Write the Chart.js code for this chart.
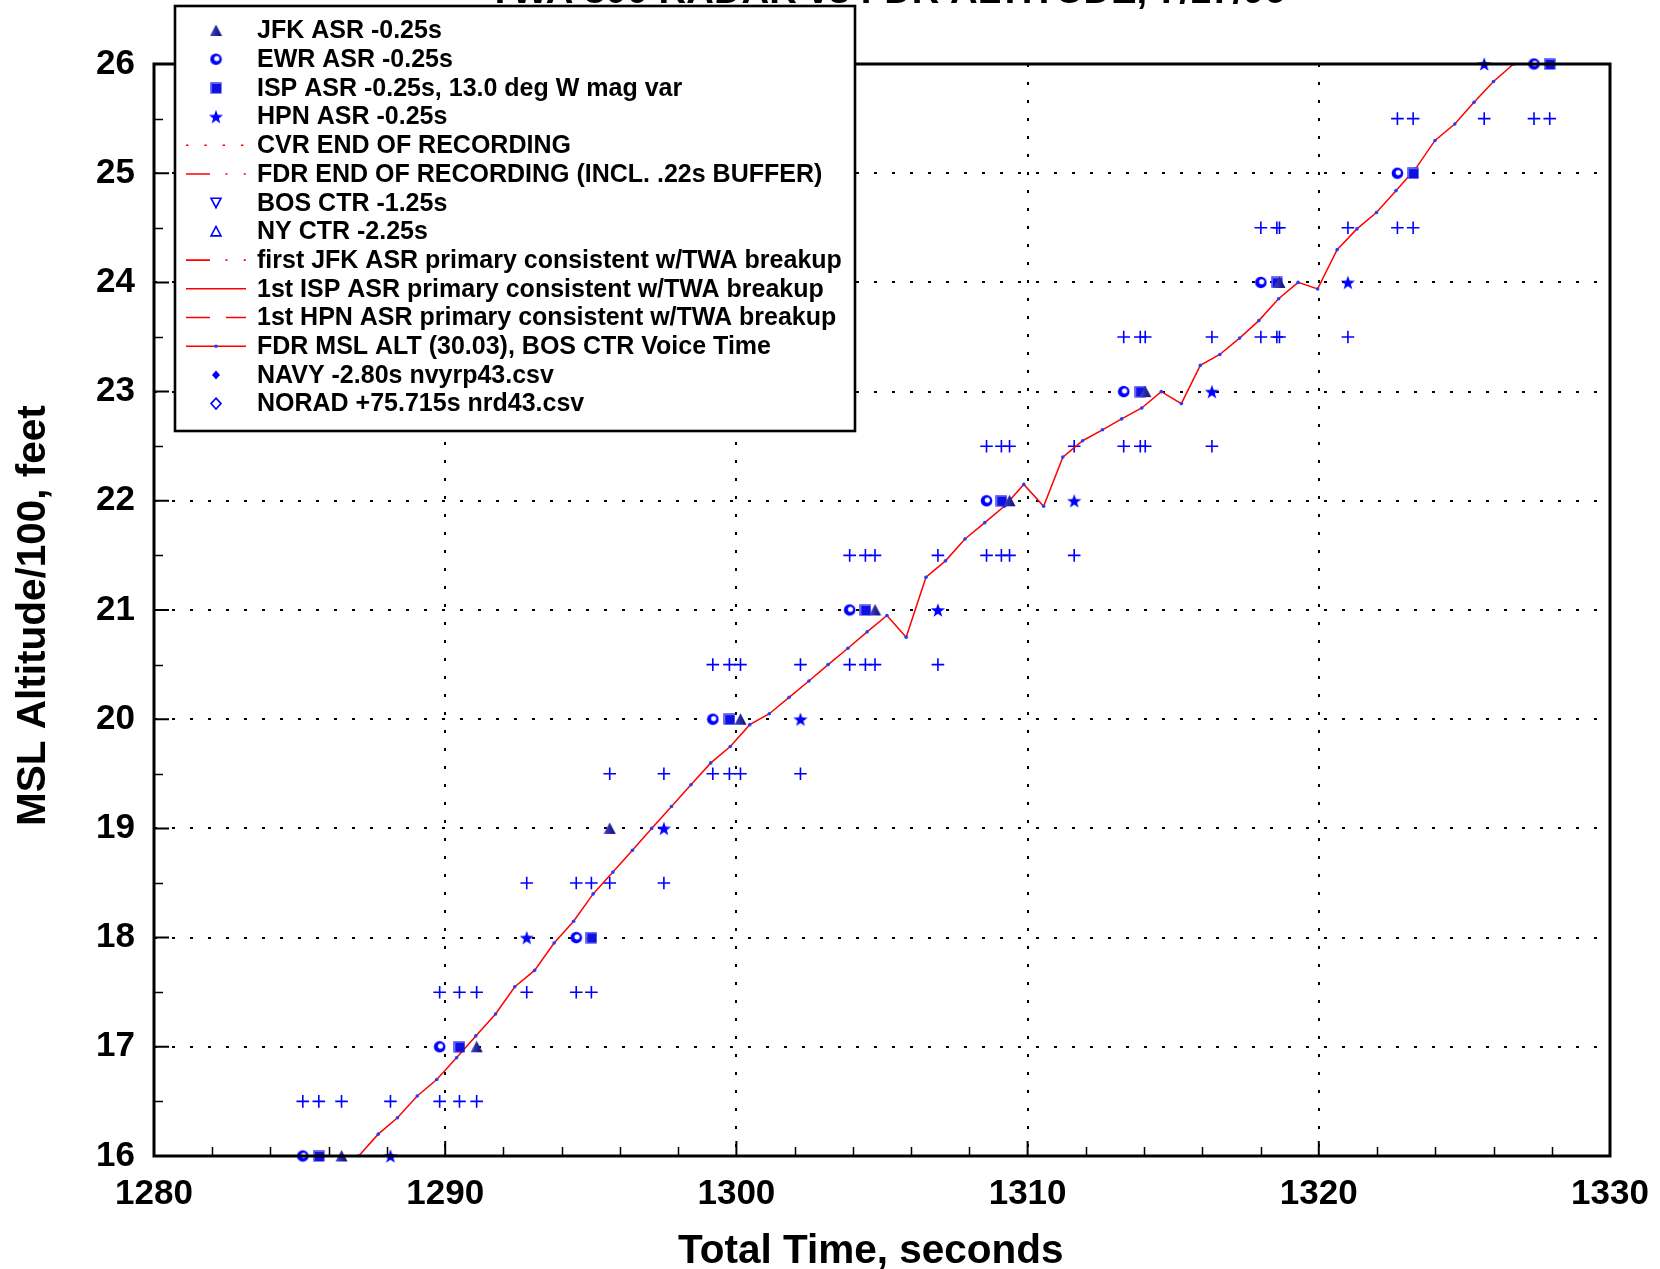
<!DOCTYPE html>
<html>
<head>
<meta charset="utf-8">
<script src="https://cdn.jsdelivr.net/npm/chart.js@4.4.1/dist/chart.umd.min.js"></script>
<style>
  body { margin: 0; background: #fff; }
  canvas { display: block; }
</style>
</head>
<body>
<canvas id="altChart" width="1660" height="1269"></canvas>
<script>
const FONT = '"Liberation Sans", Arial, Helvetica, sans-serif';

const chartTitle = 'TWA 800 RADAR vs FDR ALTITUDE, 7/17/96';
const xTicks = [1280, 1290, 1300, 1310, 1320, 1330];
const yTicks = [16, 17, 18, 19, 20, 21, 22, 23, 24, 25, 26];

// FDR altitude trace (seconds, hundreds of feet)
const fdrTime = [1287.03, 1287.70, 1288.36, 1289.04, 1289.71, 1290.39, 1291.05, 1291.73, 1292.39, 1293.07,
  1293.74, 1294.41, 1295.08, 1295.76, 1296.43, 1297.09, 1297.77, 1298.44, 1299.12, 1299.79,
  1300.46, 1301.13, 1301.81, 1302.49, 1303.15, 1303.83, 1304.49, 1305.17, 1305.83, 1306.51,
  1307.18, 1307.85, 1308.53, 1309.20, 1309.87, 1310.55, 1311.21, 1311.89, 1312.57, 1313.23,
  1313.92, 1314.59, 1315.28, 1315.93, 1316.60, 1317.28, 1317.94, 1318.62, 1319.29, 1319.96,
  1320.63, 1321.31, 1321.98, 1322.65, 1323.32, 1323.99, 1324.67, 1325.33, 1326.00, 1326.69];
const fdrAlt = [16.00, 16.20, 16.35, 16.55, 16.70, 16.90, 17.10, 17.30, 17.55, 17.70,
  17.95, 18.15, 18.40, 18.60, 18.80, 19.00, 19.20, 19.40, 19.60, 19.75,
  19.95, 20.05, 20.20, 20.35, 20.50, 20.65, 20.80, 20.95, 20.75, 21.30,
  21.45, 21.65, 21.80, 21.95, 22.15, 21.95, 22.40, 22.55, 22.65, 22.75,
  22.85, 23.00, 22.89, 23.24, 23.34, 23.49, 23.65, 23.85, 24.00, 23.94,
  24.30, 24.49, 24.64, 24.84, 25.04, 25.30, 25.45, 25.65, 25.84, 26.00];

// ASR mode C returns
const jfkTime = [1286.44, 1291.08, 1295.65, 1300.14, 1304.76, 1309.38, 1314.04, 1318.65];
const jfkAlt = [16, 17, 19, 20, 21, 22, 23, 24];
const ewrTime = [1285.11, 1289.81, 1294.50, 1299.19, 1303.89, 1308.59, 1313.30, 1318.01, 1322.70, 1327.39];
const ewrAlt = [16, 17, 18, 20, 21, 22, 23, 24, 25, 26];
const ispTime = [1285.66, 1290.49, 1295.02, 1299.76, 1304.43, 1309.10, 1313.87, 1318.56, 1323.24, 1327.93];
const ispAlt = [16, 17, 18, 20, 21, 22, 23, 24, 25, 26];
const hpnTime = [1288.12, 1292.80, 1297.51, 1302.20, 1306.92, 1311.60, 1316.33, 1321.00, 1325.68];
const hpnAlt = [16, 18, 19, 20, 21, 22, 23, 24, 26];

// +/- 50 ft band marks, grouped by level
const bandLevels = [16.5, 17.5, 18.5, 19.5, 20.5, 21.5, 22.5, 23.5, 24.5, 25.5];
const bandTimes = [
  [1285.11, 1285.66, 1286.44, 1288.12, 1289.81, 1290.49, 1291.08],
  [1289.81, 1290.49, 1291.08, 1292.80, 1294.50, 1295.02],
  [1292.80, 1294.50, 1295.02, 1295.65, 1297.51],
  [1295.65, 1297.51, 1299.19, 1299.76, 1300.14, 1302.20],
  [1299.19, 1299.76, 1300.14, 1302.20, 1303.89, 1304.43, 1304.76, 1306.92],
  [1303.89, 1304.43, 1304.76, 1306.92, 1308.59, 1309.10, 1309.38, 1311.60],
  [1308.59, 1309.10, 1309.38, 1311.60, 1313.30, 1313.87, 1314.04, 1316.33],
  [1313.30, 1313.87, 1314.04, 1316.33, 1318.01, 1318.56, 1318.65, 1321.00],
  [1318.01, 1318.56, 1318.65, 1321.00, 1322.70, 1323.24],
  [1322.70, 1323.24, 1325.68, 1327.39, 1327.93]
];

function toPoints(xs, ys) {
  return xs.map((x, i) => ({ x: x, y: ys[i] }));
}

const bandPoints = [];
bandLevels.forEach((lvl, i) => {
  bandTimes[i].forEach(t => bandPoints.push({ x: t, y: lvl }));
});

// marker images
function makeMarker(size, draw) {
  const c = document.createElement('canvas');
  c.width = size;
  c.height = size;
  draw(c.getContext('2d'), size);
  return c;
}

const triMarker = makeMarker(13, (g, s) => {
  const grad = g.createLinearGradient(0, 0, s, 0);
  grad.addColorStop(0, '#4545dc');
  grad.addColorStop(1, '#0a0a66');
  g.fillStyle = grad;
  g.beginPath();
  g.moveTo(s / 2, 0.5);
  g.lineTo(s - 0.5, s - 1);
  g.lineTo(0.5, s - 1);
  g.closePath();
  g.fill();
});

const ballMarker = makeMarker(13, (g, s) => {
  g.fillStyle = '#0000ff';
  g.beginPath();
  g.arc(s / 2, s / 2, 5.8, 0, Math.PI * 2);
  g.fill();
  g.fillStyle = '#ffffff';
  g.beginPath();
  g.arc(s / 2 + 0.8, s / 2 - 0.7, 2.6, 0, Math.PI * 2);
  g.fill();
});

const boxMarker = makeMarker(12, (g, s) => {
  g.fillStyle = '#1010e0';
  g.fillRect(0.5, 0.5, s - 1, s - 1);
  g.fillStyle = '#6060ff';
  g.fillRect(0.5, 0.5, 1.5, s - 1);
  g.fillRect(0.5, 0.5, s - 1, 1.5);
});

const starMarker = makeMarker(16, (g, s) => {
  g.fillStyle = '#0000ff';
  g.beginPath();
  for (let k = 0; k < 10; k++) {
    const r = k % 2 === 0 ? 7.4 : 3.0;
    const a = -Math.PI / 2 + k * Math.PI / 5;
    const px = s / 2 + r * Math.cos(a);
    const py = s / 2 + 0.7 + r * Math.sin(a);
    if (k === 0) g.moveTo(px, py); else g.lineTo(px, py);
  }
  g.closePath();
  g.fill();
});

const RED = '#ff0000';
const BLUE = '#0000ff';

const datasets = [
  { label: 'JFK ASR -0.25s', data: toPoints(jfkTime, jfkAlt), pointStyle: triMarker, clip: false },
  { label: 'EWR ASR -0.25s', data: toPoints(ewrTime, ewrAlt), pointStyle: ballMarker, clip: false },
  { label: 'ISP ASR -0.25s, 13.0 deg W mag var', data: toPoints(ispTime, ispAlt), pointStyle: boxMarker, clip: false },
  { label: 'HPN ASR -0.25s', data: toPoints(hpnTime, hpnAlt), pointStyle: starMarker, clip: false },
  { label: 'CVR END OF RECORDING', data: [], legendLine: true, borderColor: RED, borderDash: [2.5, 15.8] },
  { label: 'FDR END OF RECORDING (INCL. .22s BUFFER)', data: [], legendLine: true, borderColor: RED, borderDash: [24, 15.5, 2, 16.3, 2, 100] },
  { label: 'BOS CTR -1.25s', data: [], legendSym: 'openTriDown' },
  { label: 'NY CTR -2.25s', data: [], legendSym: 'openTri' },
  { label: 'first JFK ASR primary consistent w/TWA breakup', data: [], legendLine: true, borderColor: RED, borderDash: [24, 15.5, 2, 16.3, 2, 100] },
  { label: '1st ISP ASR primary consistent w/TWA breakup', data: [], legendLine: true, borderColor: RED, borderDash: [] },
  { label: '1st HPN ASR primary consistent w/TWA breakup', data: [], legendLine: true, borderColor: RED, borderDash: [24, 16] },
  { label: 'FDR MSL ALT (30.03), BOS CTR Voice Time', data: toPoints(fdrTime, fdrAlt), legendLine: true, legendDot: true,
    showLine: true, borderColor: RED, borderWidth: 1.5, pointRadius: 1.8, pointStyle: 'circle',
    pointBackgroundColor: '#2040ff', pointBorderColor: '#2040ff', pointBorderWidth: 0 },
  { label: 'NAVY -2.80s nvyrp43.csv', data: [], legendSym: 'diamond' },
  { label: 'NORAD +75.715s nrd43.csv', data: [], legendSym: 'openDiamond' },
  { label: 'band', data: bandPoints, hideInLegend: true, pointStyle: 'cross', pointRadius: 6.3,
    borderColor: BLUE, borderWidth: 1.6, clip: false }
];

function drawSymbol(ctx, ds, x, y) {
  ctx.save();
  if (ds.legendLine) {
    ctx.strokeStyle = ds.borderColor;
    ctx.lineWidth = 1.6;
    ctx.setLineDash(ds.borderDash || []);
    ctx.beginPath();
    ctx.moveTo(186, y);
    ctx.lineTo(246, y);
    ctx.stroke();
    ctx.setLineDash([]);
    if (ds.legendDot) {
      ctx.fillStyle = '#2040ff';
      ctx.beginPath();
      ctx.arc(x, y, 1.8, 0, Math.PI * 2);
      ctx.fill();
    }
  } else if (ds.pointStyle && typeof ds.pointStyle === 'object') {
    const im = ds.pointStyle;
    ctx.drawImage(im, x - im.width / 2, y - im.height / 2);
  } else {
    ctx.strokeStyle = BLUE;
    ctx.fillStyle = BLUE;
    ctx.lineWidth = 1.6;
    ctx.beginPath();
    if (ds.legendSym === 'openTriDown') {
      ctx.moveTo(x - 5, y - 4.5); ctx.lineTo(x + 5, y - 4.5); ctx.lineTo(x, y + 5); ctx.closePath(); ctx.stroke();
    } else if (ds.legendSym === 'openTri') {
      ctx.moveTo(x - 5, y + 4.5); ctx.lineTo(x + 5, y + 4.5); ctx.lineTo(x, y - 5); ctx.closePath(); ctx.stroke();
    } else if (ds.legendSym === 'diamond') {
      ctx.moveTo(x, y - 4.5); ctx.lineTo(x + 4, y); ctx.lineTo(x, y + 4.5); ctx.lineTo(x - 4, y); ctx.closePath(); ctx.fill();
    } else if (ds.legendSym === 'openDiamond') {
      ctx.moveTo(x, y - 5.5); ctx.lineTo(x + 5, y); ctx.lineTo(x, y + 5.5); ctx.lineTo(x - 5, y); ctx.closePath(); ctx.stroke();
    }
  }
  ctx.restore();
}

const framePlugin = {
  id: 'frame',
  afterDraw(chart) {
    const { ctx, chartArea: a, scales } = chart;
    const xs = scales.x, ys = scales.y;
    ctx.save();
    ctx.strokeStyle = '#000';

    // minor ticks, inward
    ctx.lineWidth = 1.5;
    ctx.beginPath();
    for (let t = 1282; t < 1330; t += 2) {
      if (t % 10 === 0) continue;
      const px = Math.round(xs.getPixelForValue(t)) + 0.5;
      ctx.moveTo(px, a.bottom);
      ctx.lineTo(px, a.bottom - 9);
    }
    for (let v = 16.5; v < 26; v += 1) {
      const py = Math.round(ys.getPixelForValue(v)) + 0.5;
      ctx.moveTo(a.left, py);
      ctx.lineTo(a.left + 9, py);
    }
    ctx.stroke();

    // major ticks
    ctx.lineWidth = 2;
    ctx.beginPath();
    xTicks.forEach(t => {
      const px = xs.getPixelForValue(t);
      ctx.moveTo(px, a.bottom);
      ctx.lineTo(px, a.bottom - 15);
    });
    yTicks.forEach(v => {
      const py = ys.getPixelForValue(v);
      ctx.moveTo(a.left, py);
      ctx.lineTo(a.left + 15, py);
    });
    ctx.stroke();

    // frame
    ctx.lineWidth = 3;
    ctx.strokeRect(a.left, a.top, a.right - a.left, a.bottom - a.top);

    // title, mostly above the page edge
    ctx.fillStyle = '#000';
    ctx.font = 'bold 40px ' + FONT;
    const w = ctx.measureText(chartTitle).width;
    ctx.font = 'bold ' + (40 * 797 / w).toFixed(1) + 'px ' + FONT;
    ctx.textAlign = 'center';
    ctx.textBaseline = 'alphabetic';
    ctx.fillText(chartTitle, 887, 3);

    // legend box
    const box = { left: 175, top: 6, right: 855, bottom: 431 };
    ctx.fillStyle = '#fff';
    ctx.fillRect(box.left, box.top, box.right - box.left, box.bottom - box.top);
    ctx.lineWidth = 2.6;
    ctx.strokeStyle = '#000';
    ctx.strokeRect(box.left, box.top, box.right - box.left, box.bottom - box.top);

    ctx.font = 'bold 25px ' + FONT;
    ctx.textAlign = 'left';
    ctx.textBaseline = 'middle';
    let row = 0;
    chart.data.datasets.forEach(ds => {
      if (ds.hideInLegend) return;
      const y = 30.5 + row * 28.7;
      drawSymbol(ctx, ds, 216, y);
      ctx.fillStyle = '#000';
      ctx.fillText(ds.label, 257, y + 1);
      row++;
    });
    ctx.restore();
  }
};

const tickFont = { family: FONT, size: 35, weight: 'bold' };
const titleFont = { family: FONT, size: 40.5, weight: 'bold' };

new Chart(document.getElementById('altChart').getContext('2d'), {
  type: 'scatter',
  data: { datasets: datasets },
  options: {
    responsive: false,
    animation: false,
    devicePixelRatio: 1,
    layout: { padding: { top: 64, right: 50, left: 0, bottom: 0 } },
    plugins: { legend: { display: false }, tooltip: { enabled: false } },
    scales: {
      x: {
        type: 'linear', min: xTicks[0], max: xTicks[xTicks.length - 1],
        afterBuildTicks: s => { s.ticks = xTicks.map(v => ({ value: v })); },
        ticks: { font: tickFont, color: '#000', padding: 17, maxRotation: 0, autoSkip: false, callback: v => String(v) },
        grid: { color: '#000', lineWidth: 2, drawTicks: false },
        border: { display: false, dash: [3, 15] },
        title: { display: true, text: 'Total Time, seconds\u00a0\u00a0', font: titleFont, color: '#000', padding: { top: 0, bottom: -7 } },
        afterFit: s => { s.height = 113; s.paddingLeft = 0; s.paddingRight = 0; }
      },
      y: {
        type: 'linear', min: yTicks[0], max: yTicks[yTicks.length - 1],
        afterBuildTicks: s => { s.ticks = yTicks.map(v => ({ value: v })); },
        ticks: { font: tickFont, color: '#000', padding: 19, autoSkip: false, callback: v => String(v) },
        grid: { color: '#000', lineWidth: 2, drawTicks: false },
        border: { display: false, dash: [3, 15] },
        title: { display: true, text: 'MSL Altitude/100, feet\u00a0', font: titleFont, color: '#000', padding: { top: 10, bottom: 0 } },
        afterFit: s => { s.width = 154; s.paddingTop = 0; s.paddingBottom = 0; }
      }
    }
  },
  plugins: [framePlugin]
});
</script>
</body>
</html>
